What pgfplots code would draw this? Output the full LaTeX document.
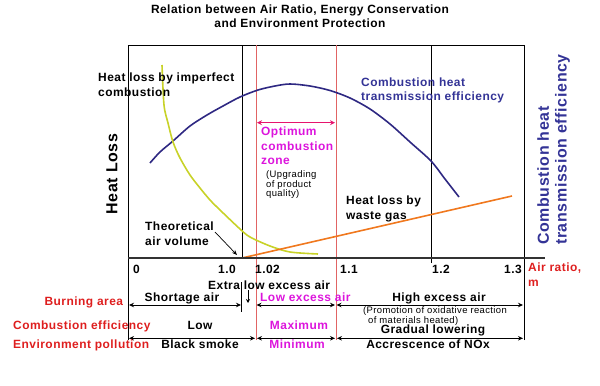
\documentclass[border=0pt]{standalone}
\usepackage{pgfplots}
\pgfplotsset{compat=1.18}
\usepackage{pgfplotstable}
\usepackage{fontspec}
\setmainfont{Liberation Sans}[LetterSpace=4]
\usetikzlibrary{arrows.meta}
\definecolor{navyc}{RGB}{46,40,130}
\definecolor{bluet}{RGB}{51,51,150}
\definecolor{yel}{RGB}{200,210,40}
\definecolor{org}{RGB}{240,120,30}
\definecolor{redl}{RGB}{222,30,30}
\definecolor{mag}{RGB}{220,20,220}
\definecolor{pinkarr}{RGB}{230,20,110}
\definecolor{redv}{RGB}{225,100,100}
\definecolor{axg}{RGB}{50,50,50}

\pgfplotstableread{
x y
150 95
160 106
173 117
190 132
207 143
223 152
240 161
258 168
275 172
290 174
310 172
330 167.5
350 160
370 149
390 134
410 116
431 97
445 79
459 61
}\effdata

\pgfplotstableread{
x y
162 193
164 153
168 135
173 116
180 100
190 83
200 70
210 58
220 48
240 29
250 21
270 12
290 6
318 4
}\imperfdata

\pgfplotstableread{
x y
242 0
512 62
}\wastedata

\tikzset{
 b/.style={font=\fontsize{12}{14.5}\selectfont\bfseries, inner sep=0pt, align=left},
 bc/.style={font=\fontsize{12}{14}\selectfont\bfseries, inner sep=0pt, align=center},
 s/.style={font=\fontsize{9.5}{10}\selectfont, inner sep=0pt, align=left},
 ar/.style={{Stealth[length=5bp,width=4.5bp]}-{Stealth[length=5bp,width=4.5bp]}, line width=0.8bp},
}

\begin{document}
\begin{tikzpicture}
\begin{axis}[
  scale only axis, width=396bp, height=213bp,
  xmin=128, xmax=524, ymin=0, ymax=213,
  axis lines=none, ticks=none, clip=false,
]
% bounding box of whole picture (600 x 386)
\path (axis cs:0,-128) rectangle (axis cs:600,258);

% frame and guide lines
\draw[line width=0.8bp] (axis cs:128,213) -- (axis cs:524,213);
\draw[line width=0.8bp] (axis cs:128,-82) -- (axis cs:128,213);
\draw[line width=0.8bp] (axis cs:524,-82) -- (axis cs:524,213);
\draw[line width=0.8bp] (axis cs:242,0) -- (axis cs:242,213);
\draw[line width=0.8bp] (axis cs:241,-24) -- (axis cs:241,-54);
\draw[line width=0.8bp] (axis cs:431,-5) -- (axis cs:431,213);
\draw[redv, line width=0.7bp] (axis cs:256,-82) -- (axis cs:256,213);
\draw[redv, line width=0.7bp] (axis cs:336,-82) -- (axis cs:336,213);

% curves
\addplot[navyc, line width=1.6bp, smooth, no marks] table {\effdata};
\addplot[yel, line width=1.6bp, smooth, no marks] table {\imperfdata};
\addplot[org, line width=1.6bp, no marks] table {\wastedata};

\draw[axg, line width=2.6bp] (axis cs:128,0) -- (axis cs:545,0);

% title
\node[bc, anchor=north] at (axis cs:300,253) {Relation between Air Ratio, Energy Conservation\\and Environment Protection};

% in-plot labels
\node[b, anchor=north west] at (axis cs:98,185) {Heat loss by imperfect\\combustion};
\node[b, bluet, anchor=north west] at (axis cs:361,180.7) {Combustion heat\\transmission efficiency};
\node[b, mag, anchor=north west] at (axis cs:261,131.3) {Optimum\\combustion\\zone};
\draw[pinkarr, line width=1.4bp, {Stealth[length=5bp,width=5bp]}-{Stealth[length=5bp,width=5bp]}] (axis cs:257,135.3) -- (axis cs:335,135.3);
\node[s, anchor=north west] at (axis cs:266,88) {(Upgrading\\of product\\quality)};
\node[b, anchor=north west] at (axis cs:346,62) {Heat loss by\\waste gas};
\node[b, anchor=north west] at (axis cs:145,36.3) {Theoretical\\air volume};
\draw[line width=0.7bp, -{Stealth[length=5bp,width=4bp]}] (axis cs:215,26) -- (axis cs:237,3);

% axis titles
\node[font=\fontsize{16}{18}\selectfont\bfseries, rotate=90, inner sep=0pt] at (axis cs:112,84) {Heat Loss};
\node[font=\fontsize{16}{18}\selectfont\bfseries, text=bluet, rotate=90, anchor=north west, align=left, inner sep=0pt] at (axis cs:537,13) {Combustion heat\\transmission efficiency};

% tick labels
\node[b, anchor=north west] at (axis cs:133,-7) {0};
\node[b, anchor=north east] at (axis cs:236,-7) {1.0};
\node[b, anchor=north west] at (axis cs:255,-7) {1.02};
\node[b, anchor=north west] at (axis cs:340,-7) {1.1};
\node[b, anchor=north west] at (axis cs:432,-7) {1.2};
\node[b, anchor=north east] at (axis cs:522,-7) {1.3};
\node[b, text=redl, anchor=north west] at (axis cs:528,-5) {Air ratio,\\m};

% table row 1
\node[b, anchor=north west] at (axis cs:208,-22.3) {Extra low excess air};
\node[b, anchor=north] at (axis cs:182,-34.5) {Shortage air};
\node[b, text=mag, anchor=north west] at (axis cs:260,-34.5) {Low excess air};
\node[b, anchor=north] at (axis cs:439,-34.5) {High excess air};
\node[b, text=redl, anchor=north east] at (axis cs:123.3,-38.7) {Burning area};
\draw[line width=0.8bp, -{Stealth[length=4bp,width=4bp]}] (axis cs:248,-32) -- (axis cs:248,-45);
\draw[ar] (axis cs:129,-47) -- (axis cs:241,-47);
\draw[ar] (axis cs:256.5,-47) -- (axis cs:335,-47);
\draw[ar] (axis cs:336.5,-47) -- (axis cs:523,-47);
\node[s, anchor=north west] at (axis cs:363,-48.7) {(Promotion of oxidative reaction};
\node[s, anchor=north west] at (axis cs:368,-58.7) {of materials heated)};

% table row 2
\node[b, text=redl, anchor=north west] at (axis cs:13,-63) {Combustion efficiency};
\node[b, anchor=north] at (axis cs:200,-63) {Low};
\node[b, text=mag, anchor=north] at (axis cs:299,-63) {Maximum};
\node[b, anchor=north] at (axis cs:433,-67) {Gradual lowering};
\draw[ar] (axis cs:129,-80.3) -- (axis cs:255,-80.3);
\draw[ar] (axis cs:257,-80.3) -- (axis cs:335,-80.3);
\draw[ar] (axis cs:337,-80.3) -- (axis cs:523,-80.3);

% table row 3
\node[b, text=redl, anchor=north west] at (axis cs:13,-82) {Environment pollution};
\node[b, anchor=north] at (axis cs:200,-82) {Black smoke};
\node[b, text=mag, anchor=north] at (axis cs:297,-82) {Minimum};
\node[b, anchor=north] at (axis cs:428,-82) {Accrescence of NOx};
\end{axis}
\end{tikzpicture}
\end{document}
